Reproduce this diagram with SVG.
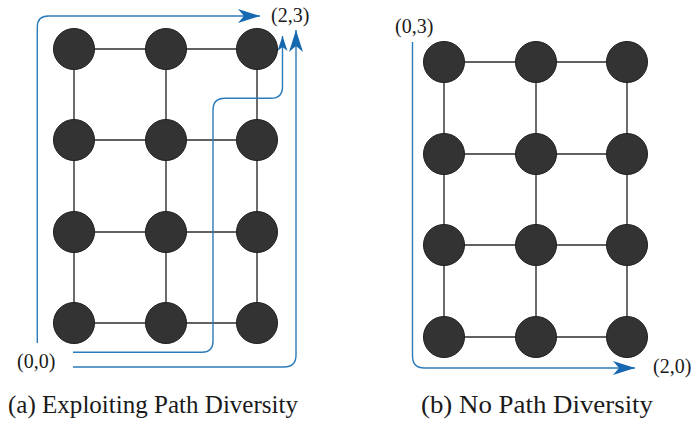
<svg xmlns="http://www.w3.org/2000/svg" width="695" height="424" viewBox="0 0 695 424">
  <style>
    .edge { stroke: #2e2e2e; stroke-width: 1.4; fill: none; }
    .node { fill: #333333; stroke: #1e1e1e; stroke-width: 1; }
    .route { stroke: #2b7bba; stroke-width: 1.4; fill: none; }
    .lbl { font-family: "Liberation Serif", "DejaVu Serif", serif; font-size: 20px; fill: #1a1a1a; }
    .cap { font-family: "Liberation Serif", "DejaVu Serif", serif; font-size: 25px; fill: #1a1a1a; }
  </style>
  <defs>
    <marker id="headL" markerUnits="userSpaceOnUse" markerWidth="24" markerHeight="16" viewBox="-22 -8 24 16" refX="0" refY="0" orient="auto">
      <path d="M0,0 L-22,-7 L-16,0 L-22,7 Z" fill="#1668b0"/>
    </marker>
    <marker id="headS" markerUnits="userSpaceOnUse" markerWidth="16" markerHeight="12" viewBox="-15 -6 16 12" refX="0" refY="0" orient="auto">
      <path d="M0,0 L-15,-5 L-11,0 L-15,5 Z" fill="#1668b0"/>
    </marker>
  </defs>

  <!-- mesh links, left grid -->
  <g id="links-a" class="edge">
    <path d="M74,49 H257 M74,140 H257 M74,232 H257 M74,323 H257"/>
    <path d="M74,49 V323 M166,49 V323 M257,49 V323"/>
  </g>
  <!-- mesh links, right grid -->
  <g id="links-b" class="edge">
    <path d="M444,62 H627 M444,154 H627 M444,245 H627 M444,337 H627"/>
    <path d="M444,62 V337 M536,62 V337 M627,62 V337"/>
  </g>

  <!-- routes -->
  <g id="connectors" class="route">
    <path d="M37.3,343 V27 Q37.3,16 48.3,16 H260" marker-end="url(#headL)"/>
    <path d="M73,352.3 H202 Q213,352.3 213,341.3 V110 Q213,98.3 225,98.3 H271 Q282.5,98.3 282.5,86.8 V36" marker-end="url(#headS)"/>
    <path d="M73,367 H284 Q296,367 296,355 V30" marker-end="url(#headL)"/>
    <path d="M412.5,42 V356 Q412.5,368 424.5,368 H635" marker-end="url(#headL)"/>
  </g>

  <!-- left grid nodes -->
  <g id="a-0-3"><circle class="node" cx="74" cy="49" r="20.5"/></g>
  <g id="a-1-3"><circle class="node" cx="166" cy="49" r="20.5"/></g>
  <g id="a-2-3"><circle class="node" cx="257" cy="49" r="20.5"/></g>
  <g id="a-0-2"><circle class="node" cx="74" cy="140" r="20.5"/></g>
  <g id="a-1-2"><circle class="node" cx="166" cy="140" r="20.5"/></g>
  <g id="a-2-2"><circle class="node" cx="257" cy="140" r="20.5"/></g>
  <g id="a-0-1"><circle class="node" cx="74" cy="232" r="20.5"/></g>
  <g id="a-1-1"><circle class="node" cx="166" cy="232" r="20.5"/></g>
  <g id="a-2-1"><circle class="node" cx="257" cy="232" r="20.5"/></g>
  <g id="a-0-0"><circle class="node" cx="74" cy="323" r="20.5"/></g>
  <g id="a-1-0"><circle class="node" cx="166" cy="323" r="20.5"/></g>
  <g id="a-2-0"><circle class="node" cx="257" cy="323" r="20.5"/></g>

  <!-- right grid nodes -->
  <g id="b-0-3"><circle class="node" cx="444" cy="62" r="20.5"/></g>
  <g id="b-1-3"><circle class="node" cx="536" cy="62" r="20.5"/></g>
  <g id="b-2-3"><circle class="node" cx="627" cy="62" r="20.5"/></g>
  <g id="b-0-2"><circle class="node" cx="444" cy="154" r="20.5"/></g>
  <g id="b-1-2"><circle class="node" cx="536" cy="154" r="20.5"/></g>
  <g id="b-2-2"><circle class="node" cx="627" cy="154" r="20.5"/></g>
  <g id="b-0-1"><circle class="node" cx="444" cy="245" r="20.5"/></g>
  <g id="b-1-1"><circle class="node" cx="536" cy="245" r="20.5"/></g>
  <g id="b-2-1"><circle class="node" cx="627" cy="245" r="20.5"/></g>
  <g id="b-0-0"><circle class="node" cx="444" cy="337" r="20.5"/></g>
  <g id="b-1-0"><circle class="node" cx="536" cy="337" r="20.5"/></g>
  <g id="b-2-0"><circle class="node" cx="627" cy="337" r="20.5"/></g>

  <!-- coordinate labels -->
  <g id="labels">
    <text class="lbl" x="271" y="22">(2,3)</text>
    <text class="lbl" x="17" y="368">(0,0)</text>
    <text class="lbl" x="395" y="33">(0,3)</text>
    <text class="lbl" x="653" y="373">(2,0)</text>
  </g>

  <!-- captions -->
  <g id="captions">
    <text class="cap" x="8" y="413" textLength="290" lengthAdjust="spacingAndGlyphs">(a) Exploiting Path Diversity</text>
    <text class="cap" x="421" y="413" textLength="232" lengthAdjust="spacingAndGlyphs">(b) No Path Diversity</text>
  </g>
</svg>
